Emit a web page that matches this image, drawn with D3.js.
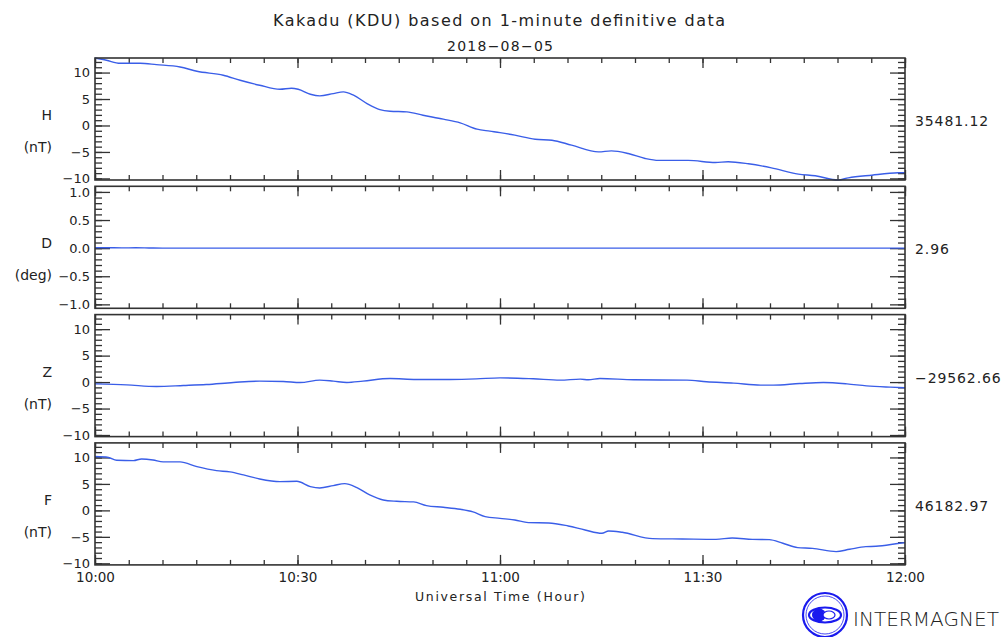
<!DOCTYPE html>
<html>
<head>
<meta charset="utf-8">
<script src="https://cdn.jsdelivr.net/npm/d3@7"></script>
<style>
  html, body { margin: 0; padding: 0; background: #fff; }
  svg { display: block; }
  text { font-family: "DejaVu Sans", "Liberation Sans", sans-serif; fill: #222; }
</style>
</head>
<body>
<svg id="chart" width="1007" height="637"></svg>
<script>
// Kakadu (KDU) magnetometer, 2018-08-05, 10:00-12:00 UT.
// Times are minutes after 10:00 UT; values are deviations from the baseline.
const stationTitle = "Kakadu (KDU) based on 1-minute definitive data";
const dateLabel = "2018-08-05";
const components = ["H", "D", "Z", "F"];
const units = ["(nT)", "(deg)", "(nT)", "(nT)"];
const baselines = ["35481.12", "2.96", "\u221229562.66", "46182.97"];

const hTimes = [0, 1.7, 3.7, 6.7, 9.1, 12.6, 15.1, 19, 21.5, 24.4, 27.4, 29.1, 30.1, 31.9, 33.3, 35.3, 36.8, 38.3, 40.3, 42.2, 43.7, 46.2, 48.6, 51.6, 54.1, 56.6, 58.5, 60, 62.2, 65.2, 67.7, 70.6, 74.6, 76.5, 79, 81.5, 83.5, 87.9, 91.9, 93.8, 96.8, 100.2, 104.2, 106.7, 110.1, 111.6, 115.1, 119, 120];
const hValues = [12.75, 12.32, 11.75, 11.75, 11.5, 11.06, 10.24, 9.49, 8.54, 7.6, 6.84, 7.03, 6.84, 5.9, 5.59, 6.03, 6.35, 5.72, 4.14, 3.01, 2.7, 2.57, 1.94, 1.19, 0.5, -0.7, -1.07, -1.35, -1.83, -2.59, -2.78, -3.72, -4.98, -4.79, -5.29, -6.23, -6.6, -6.6, -6.99, -6.86, -7.24, -8.0, -9.19, -9.5, -10.3, -9.89, -9.39, -8.94, -8.9];

const dTimes = [0, 2, 4, 6, 8, 10, 30, 60, 90, 120];
const dValues = [0.01, 0.008, 0.005, 0.006, 0.003, 0.0, 0.0, 0.0, 0.0, 0.0];

const zTimes = [0, 4.7, 9.1, 13.1, 16.5, 20.5, 24.4, 27.9, 30.4, 33.3, 35.3, 37.3, 39.7, 43.7, 47.6, 52.6, 56.5, 60, 64.9, 68.9, 71.9, 73.1, 74.8, 79.8, 87.7, 90.6, 94.6, 98.6, 100.5, 104.4, 107.9, 111.4, 114.3, 117.8, 120];
const zValues = [-0.33, -0.52, -0.84, -0.65, -0.46, -0.08, 0.18, 0.12, -0.08, 0.37, 0.18, -0.08, 0.18, 0.67, 0.5, 0.5, 0.6, 0.8, 0.62, 0.37, 0.56, 0.43, 0.68, 0.43, 0.37, 0.05, -0.2, -0.58, -0.58, -0.27, -0.08, -0.33, -0.71, -0.96, -1.08];

const fTimes = [0, 2, 3.2, 5.7, 6.9, 8.6, 10.1, 12.6, 15.1, 18, 20, 22, 24.4, 27.4, 29.9, 31.9, 33.3, 35.3, 37, 38.8, 40.7, 42.7, 44.7, 47.2, 49.1, 51.6, 54.1, 56, 57.8, 60, 62.2, 64.2, 67.2, 70.1, 72.6, 75.1, 76.1, 78.1, 82.6, 87, 92, 94.4, 97.4, 99.9, 101.9, 104.1, 106.3, 109.8, 111.8, 114.2, 115.7, 119.2, 120];
const fValues = [10.17, 10.0, 9.47, 9.41, 9.72, 9.53, 9.16, 9.16, 8.27, 7.52, 7.27, 6.7, 5.94, 5.44, 5.5, 4.5, 4.24, 4.68, 5.06, 4.31, 2.92, 1.97, 1.72, 1.6, 0.9, 0.59, 0.21, -0.29, -1.18, -1.5, -1.81, -2.31, -2.37, -2.94, -3.7, -4.33, -3.89, -4.14, -5.34, -5.4, -5.47, -5.22, -5.47, -5.53, -6.21, -7.04, -7.17, -7.79, -7.35, -6.85, -6.79, -6.22, -6.1];

const dRange = [-1.07, 1.1];
const nTMajorTicks = [-10, -5, 0, 5, 10];
const dMajorTicks = [-1.0, -0.5, 0.0, 0.5, 1.0];

const t0 = new Date(Date.UTC(2018, 7, 5, 10, 0));
const t1 = new Date(Date.UTC(2018, 7, 5, 12, 0));
const toDate = m => new Date(t0.getTime() + m * 60000);

const seriesTimes = [hTimes, dTimes, zTimes, fTimes];
const seriesValues = [hValues, dValues, zValues, fValues];

// shared nT range comes from the H trace extremes
const nTRange = d3.extent(hValues);

const svg = d3.select("#chart");
const left = 95, right = 905;
const panelTop0 = 58, panelStep = 128.3, panelH = 122;
const ink = "#333";
const lineColor = "#3a5ee8";

const x = d3.scaleUtc().domain([t0, t1]).range([left, right]);
const fmtMinus = s => s.replace("-", "\u2212");

components.forEach((comp, i) => {
  const top = panelTop0 + i * panelStep;
  const bottom = top + panelH;
  const isD = comp === "D";
  const y = d3.scaleLinear().domain(isD ? dRange : nTRange).range([bottom, top]);
  const g = svg.append("g");

  const minorY = isD ? d3.range(-10, 11).map(v => v / 10) : d3.range(-10, 13);
  const majorY = isD ? dMajorTicks : nTMajorTicks;
  const strip = a => a.call(s => s.select(".domain").remove())
    .call(s => s.selectAll("line").attr("stroke", ink).attr("stroke-width", 1.3));

  // left & right minor ticks
  g.append("g").attr("transform", `translate(${left},0)`)
    .call(d3.axisLeft(y).tickValues(minorY).tickSize(-7).tickFormat(""))
    .call(strip);
  g.append("g").attr("transform", `translate(${right},0)`)
    .call(d3.axisRight(y).tickValues(minorY).tickSize(-7).tickFormat(""))
    .call(strip);
  // left major ticks with labels
  g.append("g").attr("transform", `translate(${left},0)`)
    .call(d3.axisLeft(y).tickValues(majorY).tickSizeInner(-15).tickSizeOuter(0).tickPadding(5)
      .tickFormat(v => fmtMinus(isD ? d3.format(".1f")(v) : d3.format("d")(v))))
    .call(strip)
    .call(s => s.selectAll("text").attr("font-size", 13).attr("fill", "#222")
      .attr("font-family", "DejaVu Sans, sans-serif"));
  g.append("g").attr("transform", `translate(${right},0)`)
    .call(d3.axisRight(y).tickValues(majorY).tickSize(-15).tickFormat(""))
    .call(strip);

  // time ticks top and bottom
  const minorX = d3.utcMinute.every(5).range(t0, new Date(t1.getTime() + 1));
  const majorX = d3.utcMinute.every(30).range(t0, new Date(t1.getTime() + 1));
  g.append("g").attr("transform", `translate(0,${top})`)
    .call(d3.axisTop(x).tickValues(minorX).tickSize(-5).tickFormat("")).call(strip);
  g.append("g").attr("transform", `translate(0,${top})`)
    .call(d3.axisTop(x).tickValues(majorX).tickSize(-10).tickFormat("")).call(strip);
  g.append("g").attr("transform", `translate(0,${bottom})`)
    .call(d3.axisBottom(x).tickValues(minorX).tickSize(-5).tickFormat("")).call(strip);
  const bottomMajor = g.append("g").attr("transform", `translate(0,${bottom})`)
    .call(d3.axisBottom(x).tickValues(majorX).tickSizeInner(-10).tickSizeOuter(0).tickPadding(8)
      .tickFormat(i === components.length - 1 ? d3.utcFormat("%H:%M") : ""))
    .call(strip);
  bottomMajor.selectAll("text").attr("font-size", 13.5).attr("fill", "#222")
    .attr("font-family", "DejaVu Sans, sans-serif");

  // trace
  const pts = seriesTimes[i].map((t, k) => [toDate(t), seriesValues[i][k]]);
  g.append("path")
    .datum(pts)
    .attr("fill", "none")
    .attr("stroke", lineColor)
    .attr("stroke-width", 1.4)
    .attr("d", d3.line().x(d => x(d[0])).y(d => y(d[1])).curve(d3.curveMonotoneX));

  // frame
  g.append("rect").attr("x", left).attr("y", top).attr("width", right - left).attr("height", panelH)
    .attr("fill", "none").attr("stroke", ink).attr("stroke-width", 1.6);

  // component labels
  const mid = top + panelH / 2;
  g.append("text").attr("x", 52).attr("y", mid - 4).attr("dy", "0.35em")
    .attr("text-anchor", "end").attr("font-size", 14).text(comp);
  g.append("text").attr("x", 52).attr("y", mid + 28).attr("dy", "0.35em")
    .attr("text-anchor", "end").attr("font-size", 14).text(units[i]);
  g.append("text").attr("x", 915).attr("y", mid + 2).attr("dy", "0.35em")
    .attr("font-size", 14).attr("letter-spacing", 0.9).text(baselines[i]);
});

// titles
svg.append("text").attr("x", 499).attr("y", 20).attr("dy", "0.35em").attr("text-anchor", "middle")
  .attr("font-size", 16).attr("textLength", 452).attr("lengthAdjust", "spacing").text(stationTitle);
svg.append("text").attr("x", 500).attr("y", 46).attr("dy", "0.35em").attr("text-anchor", "middle")
  .attr("font-size", 14).attr("textLength", 106).attr("lengthAdjust", "spacing").text(dateLabel.replace(/-/g, "\u2212"));
svg.append("text").attr("x", 500).attr("y", 597).attr("dy", "0.35em").attr("text-anchor", "middle")
  .attr("font-size", 12.5).attr("textLength", 170).attr("lengthAdjust", "spacing").text("Universal Time (Hour)");

// INTERMAGNET logo
const logo = svg.append("g").attr("transform", "translate(825,615)");
const logoBlue = "#1a1aee";
logo.append("circle").attr("r", 22).attr("fill", "#fff").attr("stroke", logoBlue).attr("stroke-width", 2.2);
logo.append("circle").attr("r", 19).attr("fill", "none").attr("stroke", logoBlue).attr("stroke-width", 0.8);
logo.append("ellipse").attr("cx", 0).attr("cy", 0).attr("rx", 16).attr("ry", 7.5)
  .attr("fill", "none").attr("stroke", logoBlue).attr("stroke-width", 2.2);
logo.append("ellipse").attr("cx", -6).attr("cy", 0).attr("rx", 7).attr("ry", 6.5).attr("fill", logoBlue);
logo.append("ellipse").attr("cx", 4).attr("cy", 0).attr("rx", 6).attr("ry", 4).attr("fill", "#fff")
  .attr("stroke", logoBlue).attr("stroke-width", 1.2);
svg.append("text").attr("x", 853).attr("y", 619).attr("dy", "0.35em")
  .attr("font-size", 20).attr("font-weight", 300).attr("textLength", 146).attr("lengthAdjust", "spacingAndGlyphs")
  .attr("font-family", "Lato, 'Open Sans', sans-serif").attr("fill", "#333").text("INTERMAGNET");
</script>
</body>
</html>
